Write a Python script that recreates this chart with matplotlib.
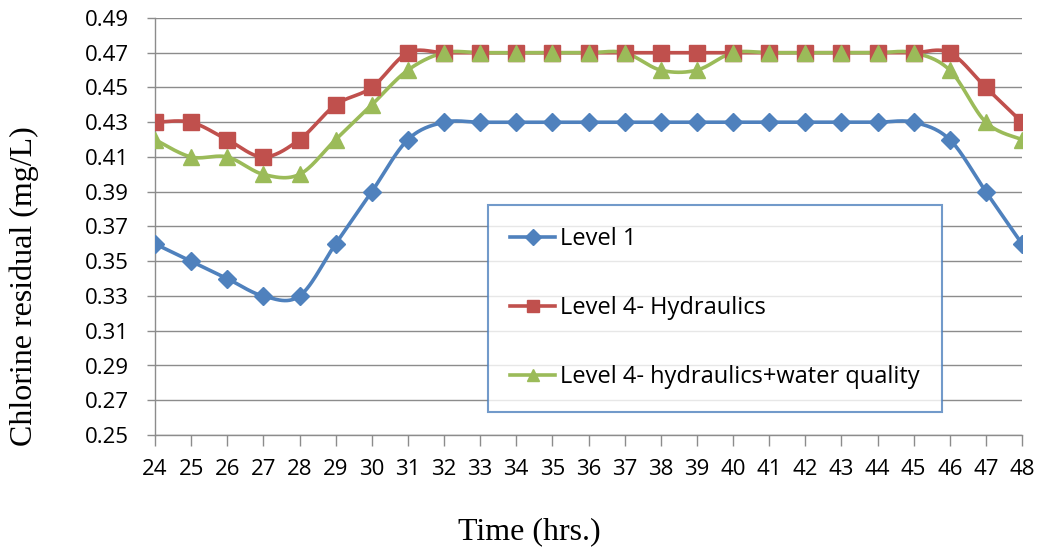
import numpy as np
import matplotlib
matplotlib.use("Agg")
import matplotlib.pyplot as plt

hours = [24, 25, 26, 27, 28, 29, 30, 31, 32, 33, 34, 35, 36, 37, 38, 39, 40,
         41, 42, 43, 44, 45, 46, 47, 48]
level1 = [0.36, 0.35, 0.34, 0.33, 0.33, 0.36, 0.39, 0.42, 0.43, 0.43, 0.43,
          0.43, 0.43, 0.43, 0.43, 0.43, 0.43, 0.43, 0.43, 0.43, 0.43, 0.43,
          0.42, 0.39, 0.36]
level4_hyd = [0.43, 0.43, 0.42, 0.41, 0.42, 0.44, 0.45, 0.47, 0.47, 0.47, 0.47,
              0.47, 0.47, 0.47, 0.47, 0.47, 0.47, 0.47, 0.47, 0.47, 0.47, 0.47,
              0.47, 0.45, 0.43]
level4_hwq = [0.42, 0.41, 0.41, 0.40, 0.40, 0.42, 0.44, 0.46, 0.47, 0.47, 0.47,
              0.47, 0.47, 0.47, 0.46, 0.46, 0.47, 0.47, 0.47, 0.47, 0.47, 0.47,
              0.46, 0.43, 0.42]
labels = ["Level 1", "Level 4- Hydraulics", "Level 4- hydraulics+water quality"]
colors = ["#4F81BD", "#C0504D", "#9BBB59"]
markers = ["D", "s", "^"]
msizes = [9, 11, 11]
yticks = [0.25, 0.27, 0.29, 0.31, 0.33, 0.35, 0.37, 0.39, 0.41, 0.43, 0.45, 0.47, 0.49]


def smooth(x, y, n=30):
    x = np.asarray(x, float)
    y = np.asarray(y, float)
    xs, ys = [], []
    N = len(x)
    for i in range(N - 1):
        p0 = np.array([x[max(i - 1, 0)], y[max(i - 1, 0)]])
        p1 = np.array([x[i], y[i]])
        p2 = np.array([x[i + 1], y[i + 1]])
        p3 = np.array([x[min(i + 2, N - 1)], y[min(i + 2, N - 1)]])
        c1 = p1 + (p2 - p0) / 6.0
        c2 = p2 - (p3 - p1) / 6.0
        t = np.linspace(0, 1, n)[:, None]
        pts = ((1 - t) ** 3) * p1 + 3 * ((1 - t) ** 2) * t * c1 + 3 * (1 - t) * t ** 2 * c2 + t ** 3 * p2
        xs.extend(pts[:, 0])
        ys.extend(pts[:, 1])
    return np.array(xs), np.array(ys)


fig = plt.figure(figsize=(10.41, 5.51), dpi=100)
ax = fig.add_axes([155 / 1041, 1 - 435 / 551, (1022 - 155) / 1041, (435 - 18) / 551])

handles = []
for ys, lab, c, m, ms in zip([level1, level4_hyd, level4_hwq], labels, colors, markers, msizes):
    sx, sy = smooth(hours, ys)
    ax.plot(sx, sy, color=c, lw=2.6, solid_capstyle="round", zorder=3)
    ax.plot(hours, ys, linestyle="none", marker=m, markersize=ms, color=c, zorder=4)
    h, = ax.plot([], [], color=c, lw=2.6, marker=m, markersize=ms)
    handles.append(h)

ax.set_xlim(24, 48)
ax.set_ylim(0.25, 0.49)
ax.set_yticks(yticks)
ax.set_yticklabels([f"{v:.2f}" for v in yticks])
ax.set_xticks(hours)
ax.set_xticklabels([str(h) for h in hours])
ax.grid(axis="y", color="#8C8C8C", lw=1.0)
ax.set_axisbelow(True)
for s in ["top", "right"]:
    ax.spines[s].set_visible(False)
for s in ["left", "bottom"]:
    ax.spines[s].set_color("#8C8C8C")
    ax.spines[s].set_linewidth(1.0)
ax.tick_params(axis="both", colors="#8C8C8C", labelcolor="black", labelsize=16, width=1.0)
ax.tick_params(axis="y", length=6, pad=13)
ax.tick_params(axis="x", length=8, pad=9)
for lab in ax.get_xticklabels() + ax.get_yticklabels():
    lab.set_family("Open Sans")

fig.text(529 / 1041, 1 - 532 / 551, "Time (hrs.)", family="Liberation Serif", fontsize=23,
         ha="center", va="center")
fig.text(24 / 1041, 1 - 286 / 551, "Chlorine residual (mg/L)", family="Liberation Serif",
         fontsize=23, rotation=90, ha="center", va="center")

leg = ax.legend(handles, labels, loc="upper left", bbox_to_anchor=(488 / 1041, 1 - 205 / 551),
                bbox_transform=fig.transFigure, borderaxespad=0, frameon=True, fancybox=False,
                prop={"family": "Open Sans", "size": 17}, labelspacing=1.9, handlelength=1.9,
                handletextpad=0.2, borderpad=0.95, numpoints=1, markerscale=0.85)
leg.get_frame().set_edgecolor("#4F81BD")
leg.get_frame().set_linewidth(1.5)

fig.savefig("out.png", dpi=100)
